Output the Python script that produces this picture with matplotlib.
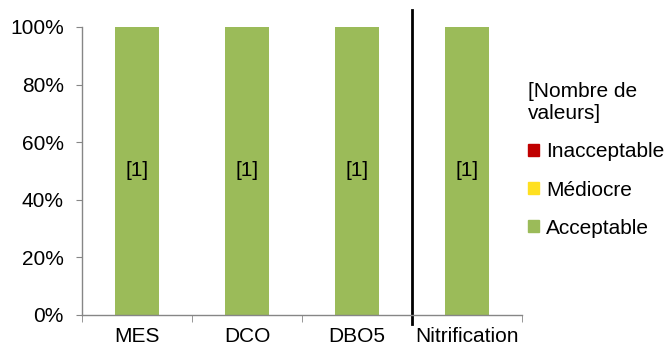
import matplotlib
matplotlib.use("Agg")
import matplotlib.pyplot as plt
from matplotlib.ticker import PercentFormatter, FixedLocator
from matplotlib.patches import Patch

plt.rcParams['font.family'] = ['Liberation Sans', 'DejaVu Sans']

categories = ["MES", "DCO", "DBO5", "Nitrification"]
acceptable = [1, 1, 1, 1]
mediocre = [0, 0, 0, 0]
inacceptable = [0, 0, 0, 0]
series_names = ["Inacceptable", "Médiocre", "Acceptable"]
colors = {"Inacceptable": "#C00000", "Médiocre": "#FFE020", "Acceptable": "#9BBB59"}

FS = 15

fig = plt.figure(figsize=(6.68, 3.48), dpi=100)
ax = fig.add_axes([82/668, 1-315/348, 440/668, 288/348])

x = list(range(len(categories)))
totals = [a + m + i for a, m, i in zip(acceptable, mediocre, inacceptable)]
acc_p = [a / t * 100 for a, t in zip(acceptable, totals)]
med_p = [m / t * 100 for m, t in zip(mediocre, totals)]
ina_p = [i / t * 100 for i, t in zip(inacceptable, totals)]

w = 0.4
ax.bar(x, acc_p, w, color=colors["Acceptable"])
ax.bar(x, med_p, w, bottom=acc_p, color=colors["Médiocre"])
ax.bar(x, ina_p, w, bottom=[a + m for a, m in zip(acc_p, med_p)], color=colors["Inacceptable"])

for xi, a, n in zip(x, acc_p, acceptable):
    if n > 0:
        ax.text(xi, a / 2, f"[{n}]", ha="center", va="center", fontsize=FS, color="#000000")

ax.set_xlim(-0.5, len(categories) - 0.5)
ax.set_ylim(0, 100)
ax.yaxis.set_major_locator(FixedLocator([0, 20, 40, 60, 80, 100]))
ax.yaxis.set_major_formatter(PercentFormatter(decimals=0))
ax.set_xticks(x)
ax.set_xticklabels(categories)
ax.set_xticks([i - 0.5 for i in range(len(categories) + 1)], minor=True)
ax.tick_params(axis="x", which="major", length=0, labelsize=FS, pad=9)
ax.tick_params(axis="x", which="minor", length=5, color="#868686", direction="out")
ax.tick_params(axis="y", length=4, color="#868686", labelsize=FS, pad=9)
for s in ["top", "right"]:
    ax.spines[s].set_visible(False)
for s in ["left", "bottom"]:
    ax.spines[s].set_color("#868686")
    ax.spines[s].set_linewidth(1)

# separator line between DBO5 and Nitrification
ax.plot([2.5, 2.5], [-3, 106], color="black", lw=2, clip_on=False)

handles = [Patch(color=colors[n]) for n in series_names]
leg = fig.legend(handles, series_names, title="[Nombre de\nvaleurs]", loc="upper left",
                 bbox_to_anchor=(522/668, 1-76/348), frameon=False, fontsize=FS,
                 title_fontsize=FS, handlelength=0.5, handleheight=0.5, handletextpad=0.35,
                 labelspacing=0.92, borderaxespad=0, borderpad=0.3)
leg._legend_box.align = "left"

fig.savefig("out.png", dpi=100)
